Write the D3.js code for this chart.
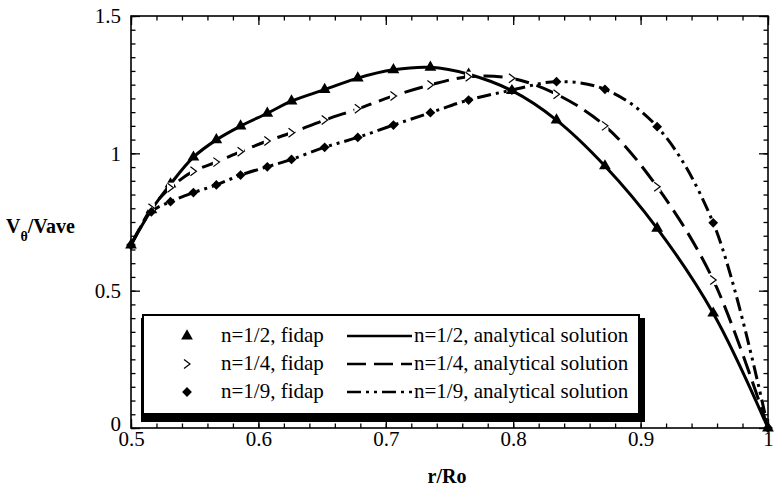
<!DOCTYPE html>
<html>
<head>
<meta charset="utf-8">
<script src="https://cdn.jsdelivr.net/npm/d3@7"></script>
<style>
  html, body { margin: 0; padding: 0; background: #fff; }
  text { font-family: "Liberation Serif", "DejaVu Serif", serif; }
</style>
</head>
<body>
<svg id="chart" width="774" height="486"></svg>
<script>
// Radial positions of the FE nodes (r/Ro), shared by all three profiles
const rPos = [0.5, 0.516, 0.531, 0.549, 0.567, 0.586, 0.607, 0.626, 0.652, 0.678,
              0.706, 0.735, 0.765, 0.799, 0.834, 0.872, 0.913, 0.957, 1.0];

// Normalised tangential velocity V_theta / Vave for each power-law index
const vHalf    = [0.666, 0.794, 0.888, 0.986, 1.049, 1.099, 1.146, 1.190, 1.232, 1.274,
                  1.304, 1.313, 1.288, 1.228, 1.121, 0.954, 0.727, 0.418, 0];
const vQuarter = [0.666, 0.800, 0.875, 0.935, 0.968, 1.006, 1.045, 1.075, 1.121, 1.162,
                  1.209, 1.249, 1.279, 1.273, 1.215, 1.100, 0.878, 0.539, 0];
const vNinth   = [0.666, 0.787, 0.824, 0.857, 0.885, 0.921, 0.951, 0.978, 1.022, 1.058,
                  1.103, 1.148, 1.194, 1.230, 1.261, 1.233, 1.097, 0.747, 0];

const xTickValues = [0.5, 0.6, 0.7, 0.8, 0.9, 1];
const xTickLabels = ["0.5", "0.6", "0.7", "0.8", "0.9", "1"];
const yTickValues = [0, 0.5, 1, 1.5];
const yTickLabels = ["0", "0.5", "1", "1.5"];

const fidapLabels = ["n=1/2, fidap", "n=1/4, fidap", "n=1/9, fidap"];
const solutionLabels = ["n=1/2, analytical solution", "n=1/4, analytical solution", "n=1/9, analytical solution"];

const FONT = "'Liberation Serif', 'DejaVu Serif', serif";
const FS = 21;

const svg = d3.select("#chart").attr("font-family", FONT);
const L = 131, R = 768, T = 16, B = 428;

const x = d3.scaleLinear().domain([0.5, 1]).range([L, R]);
const y = d3.scaleLinear().domain([0, 1.5]).range([B, T]);

// ---- axes with inward ticks on all four sides ----
const xMinor = d3.range(0.5, 1.0001, 0.02).map(v => +v.toFixed(2));
const yMinor = d3.range(0, 1.5001, 0.05).map(v => +v.toFixed(2));

function styleAxis(g) {
  g.attr("font-family", FONT).attr("font-size", FS);
  g.select(".domain").remove();
  g.selectAll("line").attr("stroke", "#000").attr("stroke-width", 1.3);
  g.selectAll("text").attr("fill", "#000").attr("font-size", FS)
    .attr("font-family", FONT);
}

// bottom
svg.append("g").attr("transform", `translate(0,${B})`)
  .call(d3.axisBottom(x).tickValues(xMinor).tickSize(-4.5).tickFormat(""))
  .call(styleAxis);
svg.append("g").attr("transform", `translate(0,${B})`)
  .call(d3.axisBottom(x).tickValues(xTickValues).tickSize(-9).tickPadding(3)
    .tickFormat((d, i) => xTickLabels[i]))
  .call(styleAxis);
// top
svg.append("g").attr("transform", `translate(0,${T})`)
  .call(d3.axisTop(x).tickValues(xMinor).tickSize(-4.5).tickFormat(""))
  .call(styleAxis);
svg.append("g").attr("transform", `translate(0,${T})`)
  .call(d3.axisTop(x).tickValues(xTickValues).tickSize(-9).tickFormat(""))
  .call(styleAxis);
// left
svg.append("g").attr("transform", `translate(${L},0)`)
  .call(d3.axisLeft(y).tickValues(yMinor).tickSize(-4.5).tickFormat(""))
  .call(styleAxis);
const yAxisG = svg.append("g").attr("transform", `translate(${L},0)`)
  .call(d3.axisLeft(y).tickValues(yTickValues).tickSize(-9).tickPadding(10)
    .tickFormat((d, i) => yTickLabels[i]))
  .call(styleAxis);
// the zero label sits a touch higher so it clears the 0.5 label below it
yAxisG.selectAll(".tick text").filter(d => d === 0).attr("dy", "0.1em");
// right
svg.append("g").attr("transform", `translate(${R},0)`)
  .call(d3.axisRight(y).tickValues(yMinor).tickSize(-4.5).tickFormat(""))
  .call(styleAxis);
svg.append("g").attr("transform", `translate(${R},0)`)
  .call(d3.axisRight(y).tickValues(yTickValues).tickSize(-9).tickFormat(""))
  .call(styleAxis);

// frame
svg.append("rect")
  .attr("x", L).attr("y", T).attr("width", R - L).attr("height", B - T)
  .attr("fill", "none").attr("stroke", "#000").attr("stroke-width", 1.6);

// ---- profiles ----
const series = [
  { values: vHalf,    dash: null,           marker: "triangle" },
  { values: vQuarter, dash: "19,8",         marker: "chevron" },
  { values: vNinth,   dash: "14,5,3,5,3,5", marker: "diamond" }
];

const line = d3.line()
  .x((d, i) => x(rPos[i]))
  .y(d => y(d))
  .curve(d3.curveCatmullRom.alpha(0.5));

const triPath = d3.symbol(d3.symbolTriangle, 60)();
const diaPath = d3.symbol(d3.symbolSquare, 48)();
const chevPath = "M-3,-4.5 L3,0 L-3,4.5";

function drawMarker(g, kind) {
  if (kind === "triangle") {
    g.append("path").attr("d", triPath).attr("fill", "#000");
  } else if (kind === "diamond") {
    g.append("path").attr("d", diaPath).attr("transform", "rotate(45)").attr("fill", "#000");
  } else {
    g.append("path").attr("d", chevPath).attr("fill", "none")
      .attr("stroke", "#000").attr("stroke-width", 1.2);
  }
}

series.forEach(s => {
  svg.append("path")
    .datum(s.values)
    .attr("d", line)
    .attr("fill", "none")
    .attr("stroke", "#000")
    .attr("stroke-width", 3)
    .attr("stroke-dasharray", s.dash);
});

series.forEach(s => {
  const marks = svg.append("g");
  s.values.forEach((v, i) => {
    if (s.marker === "chevron" && (i === 0 || i === s.values.length - 1)) return;
    const g = marks.append("g").attr("transform", `translate(${x(rPos[i])},${y(v)})`);
    if (s.marker === "chevron") {
      g.append("rect").attr("x", -3.5).attr("y", -5).attr("width", 7).attr("height", 10).attr("fill", "#fff");
    }
    drawMarker(g, s.marker);
  });
});

// ---- legend ----
const lg = svg.append("g");
const boxX = 143, boxY = 315, boxW = 496, boxH = 99;
lg.append("rect").attr("x", boxX - 2).attr("y", boxY + 3)
  .attr("width", boxW + 8).attr("height", boxH + 5).attr("fill", "#000");
lg.append("rect").attr("x", boxX).attr("y", boxY)
  .attr("width", boxW).attr("height", boxH)
  .attr("fill", "#fff").attr("stroke", "#000").attr("stroke-width", 2);

const rowBase = [342, 370, 398];
series.forEach((s, i) => {
  const cy = rowBase[i] - 6;
  const mg = lg.append("g").attr("transform", `translate(187,${cy})`);
  drawMarker(mg, s.marker);
  lg.append("text").attr("x", 221).attr("y", rowBase[i])
    .attr("font-family", FONT).attr("font-size", FS).text(fidapLabels[i]);
  lg.append("line").attr("x1", 347).attr("x2", 412).attr("y1", cy).attr("y2", cy)
    .attr("stroke", "#000").attr("stroke-width", 2.4)
    .attr("stroke-dasharray", s.dash);
  lg.append("text").attr("x", 414).attr("y", rowBase[i])
    .attr("font-family", FONT).attr("font-size", FS).text(solutionLabels[i]);
});

// ---- axis titles ----
svg.append("text").attr("x", 447).attr("y", 483)
  .attr("text-anchor", "middle").attr("font-family", FONT)
  .attr("font-weight", "bold").attr("font-size", 20)
  .text("r/Ro");

const yt = svg.append("text").attr("x", 6).attr("y", 233)
  .attr("font-family", FONT).attr("font-weight", "bold").attr("font-size", 20);
yt.append("tspan").text("V");
yt.append("tspan").attr("dy", 8).attr("font-size", 14).text("θ");
yt.append("tspan").attr("dy", -8).text("/Vave");
</script>
</body>
</html>
